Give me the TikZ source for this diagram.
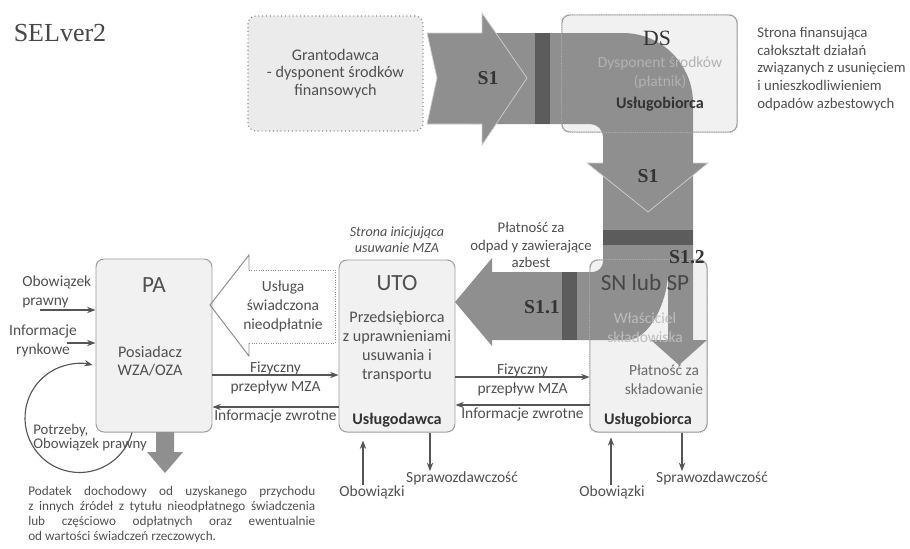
\documentclass[tikz,border=0pt]{standalone}
\usepackage{fontspec}
\setmainfont{Carlito}
\newfontfamily\serifnum{Liberation Serif}
\usepackage{tikz}
\usetikzlibrary{arrows.meta, positioning}

\definecolor{txt}{HTML}{505050}
\definecolor{dark}{HTML}{333333}
\definecolor{boxfill}{HTML}{F1F1F1}
\definecolor{boxline}{HTML}{9C9C9C}
\definecolor{flowgray}{HTML}{8F8F8F}
\definecolor{band}{HTML}{5C5C5C}
\definecolor{edge}{HTML}{CFCFCF}
\definecolor{linegray}{HTML}{555555}

\begin{document}
\begin{tikzpicture}[x=0.25mm, y=-0.25mm,
    every node/.style={text=txt, font=\fontsize{11}{13.5}\selectfont, align=center, inner sep=0pt},
    party/.style={draw=boxline, fill=boxfill, rounded corners=2mm, line width=0.7pt},
    flow/.style={-{Stealth[length=6pt,width=4.5pt]}, draw=linegray, line width=0.8pt},
    title/.style={font=\fontsize{16.5}{18}\selectfont},
    role/.style={font=\bfseries\fontsize{11.5}{14}\selectfont, text=dark},
    slabel/.style={font=\serifnum\bfseries\fontsize{14}{16}\selectfont, text=dark}]

    \useasboundingbox (0,0) rectangle (910,548);

    \node (ver) at (60,33) [font=\serifnum\fontsize{18.5}{20}\selectfont, text=dark!90] {SELver2};

    % grant giver
    \node (grant) [party, dotted, draw=boxline!90!black, line width=0.9pt, fill=black!8,
        minimum width=43.75mm, minimum height=28.75mm, font=\fontsize{11.5}{12.5}\selectfont]
        at (335.5,73.5) {Grantodawca\\- dysponent środków\\finansowych};

    % parties
    \node (DS) [party, minimum width=43.75mm, minimum height=29.25mm] at (649.5,73.5) {};
    \node (SN) [party, minimum width=29.25mm, minimum height=43mm] at (648.5,346) {};
    \node (UTO) [party, minimum width=29mm, minimum height=43mm] at (397,346) {};

    % loop of needs, half hidden by the PA box
    \coordinate (needc) at (79.5,418);
    \draw [flow] ([shift={(10:54.5)}]needc) arc [start angle=10, end angle=284, radius=54.5];
    \node (PA) [party, minimum width=29mm, minimum height=43.25mm] at (154,345.5) {};

    % money flow S1 / S1.1 / S1.2
    \fill [flowgray] (470,33) -- (623,33) .. controls (661.6,33) and (693,64.4) .. (693,103)
        -- (693,340) -- (707,340) -- (679,365) -- (651,340) -- (668,340) -- (668,272)
        .. controls (668,300) and (650,340) .. (627,340)
        -- (492,340) -- (492,346) -- (455,302) -- (492,258) -- (492,272) -- (593,272)
        .. controls (598.5,272) and (603,266.5) .. (603,262)
        -- (603,137) .. controls (603,129.8) and (597.2,124) .. (590,124) -- (470,124) -- cycle;
    \filldraw [fill=flowgray, draw=edge, line width=0.5pt] (427,33) -- (482,33) -- (482,13)
        -- (527,78) -- (482,145) -- (482,124) -- (427,124) -- (437,78) -- cycle;
    \fill [flowgray] (587,163) -- (708,163) -- (648,212) -- cycle;
    \draw [edge, line width=0.5pt] (603,163) -- (587,163) -- (648,212) -- (708,163) -- (693,163);
    \fill [band] (535,33) rectangle (550,124);
    \fill [band] (603,230) rectangle (693,245);
    \fill [band] (562,272) rectangle (577,340);

    % box edges seen through the flow
    \draw [boxline!80, densely dotted, line width=0.6pt, rounded corners=2mm] (DS.south west) rectangle (DS.north east);
    \draw [boxline!80, densely dotted, line width=0.6pt, rounded corners=2mm] (SN.south west) rectangle (SN.north east);

    \node (s1a) [slabel] at (488,78) {S1};
    \node (s1b) [slabel] at (648,176) {S1};
    \node (s11) [slabel] at (542,307) {S1.1};
    \node (s12) [slabel] at (687,257) {S1.2};

    \node (pay) [font=\fontsize{10.5}{12.5}\selectfont] at (531,245) {Płatność za\\odpad y zawierające\\azbest};

    % DS
    \node (DSt) [font=\serifnum\fontsize{15.5}{17}\selectfont, text=dark] at (657,38) {DS};
    \node (DSd) [text=black!30] at (660,73) {Dysponent środków\\(płatnik)};
    \node (DSr) [role] at (660,104) {Usługobiorca};
    \node (fin) [anchor=north west, align=left, font=\fontsize{10.5}{12.55}\selectfont] at (757,27)
        {Strona finansująca\\całokształt działań\\związanych z usunięciem\\i unieszkodliwieniem\\odpadów azbestowych};

    % SN
    \node (SNt) [title, text=black!72] at (645,283) {SN lub SP};
    \node (SNd) [text=black!26] at (645,328) {Właściciel\\składowiska};
    \node (SNp) [text=black!58] at (664,380) {Płatność za\\składowanie};
    \node (SNr) [role] at (648,420) {Usługobiorca};

    % UTO
    \node (init) [font=\itshape\fontsize{10}{11.5}\selectfont] at (397,240) {Strona inicjująca\\usuwanie MZA};
    \node (UTOt) [title] at (397,283) {UTO};
    \node (UTOd) [font=\fontsize{11.5}{13.5}\selectfont] at (397,346.5) {Przedsiębiorca\\z uprawnieniami\\usuwania i\\transportu};
    \node (UTOr) [role] at (397,420) {Usługodawca};

    % PA
    \node (PAt) [title] at (154,285) {PA};
    \node (PAd) [font=\fontsize{11.5}{13}\selectfont] at (150,361) {Posiadacz\\WZA/OZA};
    \node (need) [anchor=west, align=left, font=\fontsize{10.5}{10}\selectfont] at (33,438) {Potrzeby,\\Obowiązek prawny};

    % free service
    \filldraw [fill=white, draw=boxline!90!black, densely dotted, line width=0.7pt]
        (249,270) -- (335,270) -- (335,343) -- (249,343);
    \draw [boxline!90!black, line width=0.7pt] (249,270) -- (249,255) -- (210,305) -- (249,356) -- (249,343);
    \node (free) at (283,306) {Usługa\\świadczona\\nieodpłatnie};

    % inputs of PA
    \node (duty) [anchor=west, align=left] at (22,291.5) {Obowiązek\\prawny};
    \coordinate (dutyIn) at (40,310);
    \draw [flow] (dutyIn) -- (PA.west |- dutyIn);
    \node (market) at (43,341) {Informacje\\rynkowe};
    \coordinate (marketIn) at (67,343);
    \draw [flow] (marketIn) -- (PA.west |- marketIn);

    \fill [flowgray] (156,432) -- (156,452) -- (147,452) -- (165,473) -- (183,452) -- (174,452) -- (174,432) -- cycle;
    \node (tax) [anchor=north west, align=left, font=\fontsize{9.4}{10.7}\selectfont] at (28,486)
        {\makebox[71.75mm][s]{Podatek dochodowy od uzyskanego przychodu}\\
         \makebox[71.75mm][s]{z innych źródeł z tytułu nieodpłatnego świadczenia}\\
         \makebox[71.75mm][s]{lub częściowo odpłatnych oraz ewentualnie}\\
         od wartości świadczeń rzeczowych.};

    % physical flow and feedback
    \draw [flow] (PA.east |- 0,375) -- (UTO.west |- 0,375) node [midway, yshift=-0.75mm] {Fizyczny\\przepływ MZA};
    \draw [flow] (UTO.west |- 0,407) -- (PA.east |- 0,407) node [midway, below=1.5pt] {Informacje zwrotne};
    \draw [flow] (UTO.east |- 0,377) -- (SN.west |- 0,377) node [midway, yshift=-0.75mm] {Fizyczny\\przepływ MZA};
    \draw [flow] (SN.west |- 0,405) -- (UTO.east |- 0,405) node [midway, below=1.5pt] {Informacje zwrotne};

    % duties and reports
    \node (dutyUTO) at (372,492) {Obowiązki};
    \draw [flow, shorten >=2mm] (dutyUTO.north -| 363,0) -- (UTO.south -| 363,0);
    \node (repUTO) at (462,478) {Sprawozdawczość};
    \draw [flow] (UTO.south -| 430,0) -- (repUTO.north -| 430,0);
    \node (dutySN) at (612,492) {Obowiązki};
    \draw [flow, shorten >=1.2mm] (dutySN.north -| 611,0) -- (SN.south -| 611,0);
    \node (repSN) at (712,478) {Sprawozdawczość};
    \draw [flow] (SN.south -| 682,0) -- (repSN.north -| 682,0);

\end{tikzpicture}
\end{document}
